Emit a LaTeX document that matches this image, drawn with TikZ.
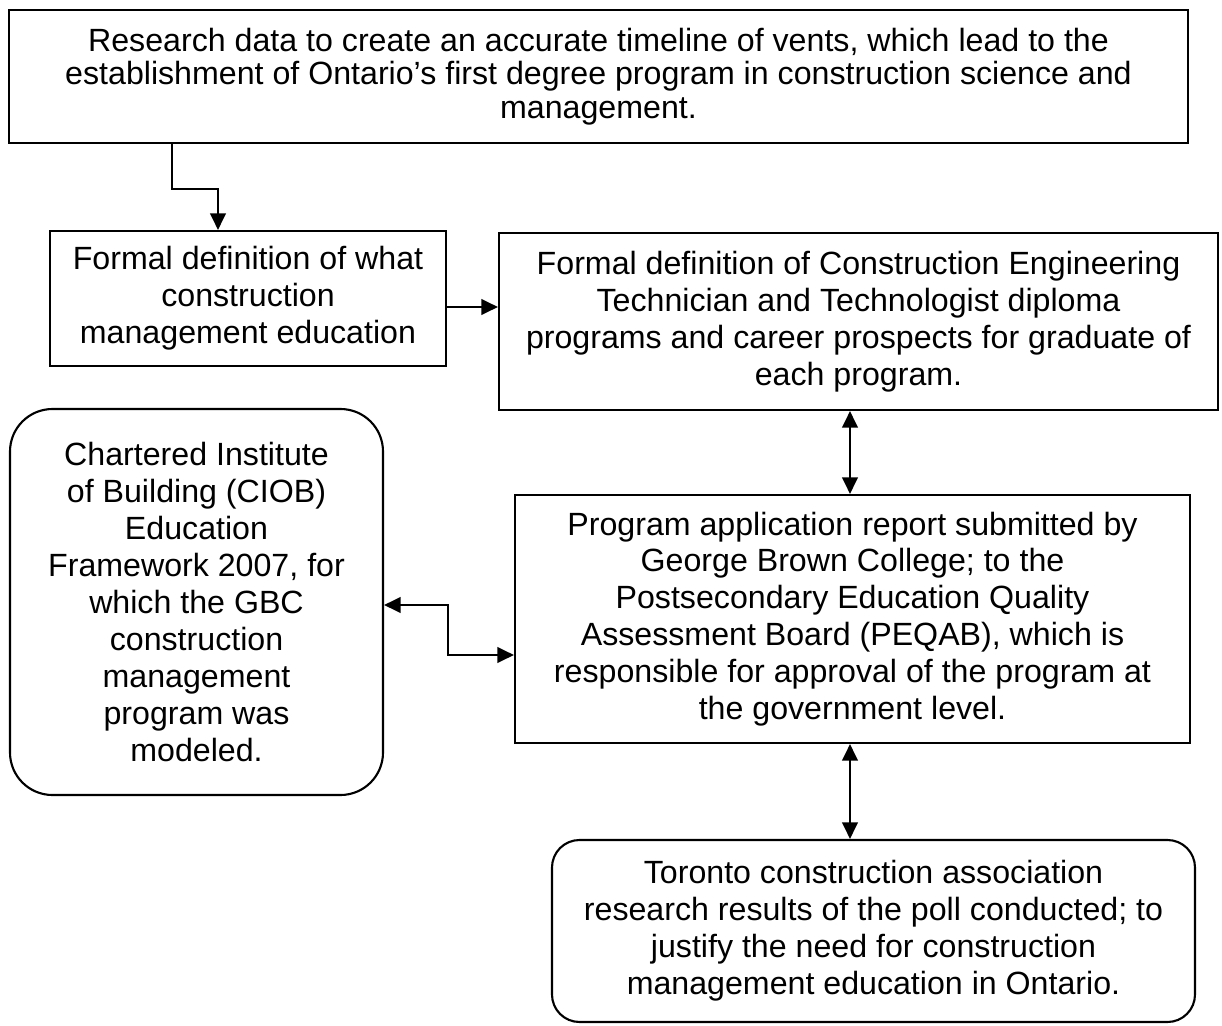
\documentclass[tikz,border=0pt]{standalone}
\usepackage{fontspec}
\setmainfont{Liberation Sans}
\usepackage{tikz}
\usetikzlibrary{arrows.meta}
\tikzset{box/.style={draw,line width=1.2pt,align=center,inner sep=0pt,font=\fontsize{18.3}{21}\selectfont},
	roundbox/.style={box,rounded corners=0.85cm}}

\begin{document}
\begin{tikzpicture}[>={Triangle[length=3.3mm,width=3.1mm]},line width=1.2pt]
\useasboundingbox (0,0) rectangle (24.44,-20.52);

\node[box,minimum width=23.58cm,minimum height=2.66cm,font=\fontsize{18.3}{19}\selectfont] (research) at (11.97,-1.53)
	{Research data to create an accurate timeline of vents, which lead to the\\establishment of Ontario’s first degree program in construction science and\\management.};
\node[box,minimum width=7.92cm,minimum height=2.7cm] (defcm) at (4.96,-5.97)
	{Formal definition of what\\construction\\management education};
\node[box,minimum width=14.38cm,minimum height=3.54cm] (defcet) at (17.17,-6.43)
	{Formal definition of Construction Engineering\\Technician and Technologist diploma\\programs and career prospects for graduate of\\each program.};
\node[roundbox,minimum width=7.46cm,minimum height=7.72cm] (ciob) at (3.93,-12.04)
	{Chartered Institute\\of Building (CIOB)\\Education\\Framework 2007, for\\which the GBC\\construction\\management\\program was\\modeled.};
\node[box,minimum width=13.5cm,minimum height=4.96cm] (report) at (17.05,-12.38)
	{Program application report submitted by\\George Brown College; to the\\Postsecondary Education Quality\\Assessment Board (PEQAB), which is\\responsible for approval of the program at\\the government level.};
\node[roundbox,rounded corners=0.55cm,minimum width=12.86cm,minimum height=3.64cm] (poll) at (17.47,-18.62)
	{Toronto construction association\\research results of the poll conducted; to\\justify the need for construction\\management education in Ontario.};

\draw[->] ([xshift=3.28cm]research.south west) -- ++(0,-0.9) -| ([xshift=-0.6cm]defcm.north);
\draw[->] ([yshift=-0.17cm]defcm.east) -- ([yshift=-0.17cm]defcm.east -| defcet.west);
\draw[<->] ([xshift=-0.05cm]report.north) -- ([xshift=-0.05cm]report.north |- defcet.south);
\draw[<->] ([yshift=-0.06cm]ciob.east) -- ++(1.28,0) |- ([yshift=-0.72cm]report.west);
\draw[<->] ([xshift=-0.05cm]report.south) -- ([xshift=-0.05cm]report.south |- poll.north);

\end{tikzpicture}
\end{document}
